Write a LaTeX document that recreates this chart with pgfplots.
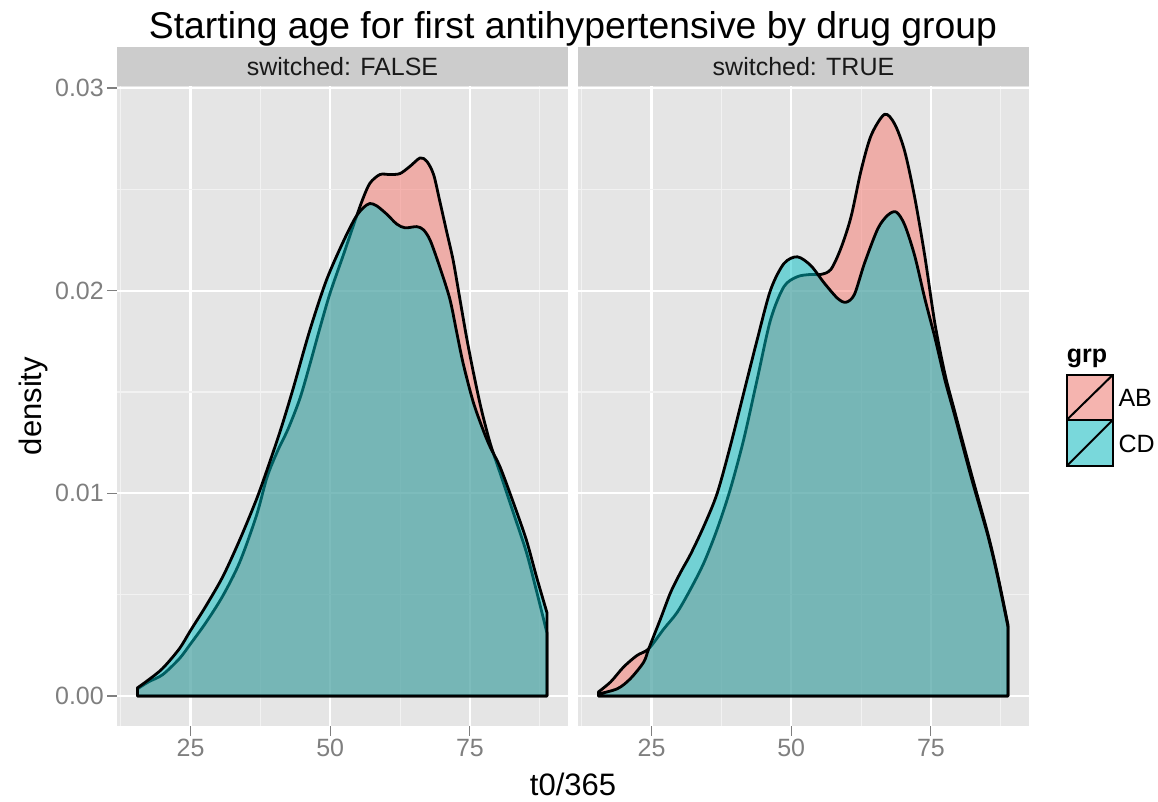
\documentclass[border=0pt]{standalone}
\usepackage{fontspec}
\setmainfont{Liberation Sans}
\usepackage{pgfplots}
\pgfplotsset{compat=1.18}

\definecolor{panelbg}{HTML}{E5E5E5}
\definecolor{gridminor}{HTML}{F2F2F2}
\definecolor{stripbg}{HTML}{CCCCCC}
\definecolor{tickgrey}{HTML}{7F7F7F}
\definecolor{grpAB}{HTML}{F8766D}
\definecolor{grpCD}{HTML}{00BFC4}
\definecolor{keyAB}{HTML}{F5B4AF}
\definecolor{keyCD}{HTML}{79D8DB}

\newcommand\ticksz{\fontsize{25bp}{30bp}\selectfont}
\newcommand\titlesz{\fontsize{37.3bp}{44bp}\selectfont}
\newcommand\labsz{\fontsize{31bp}{37bp}\selectfont}

\pgfplotsset{
  facet/.style={
    scale only axis, width=450.4bp, height=640bp, anchor=south west,
    xmin=11.9, xmax=92.5, ymin=-0.00148, ymax=0.0301,
    axis background/.style={fill=panelbg},
    axis line style={draw=none},
    scaled x ticks=false, scaled y ticks=false,
    xtick={25,50,75}, xticklabels={25,50,75},
    ytick={0,0.01,0.02,0.03},
    minor xtick={12.5,37.5,62.5,87.5},
    minor ytick={0.005,0.015,0.025},
    grid=both,
    major grid style={white, line width=2.2bp},
    minor grid style={gridminor, line width=1.1bp},
    tick align=outside, xtick pos=left, ytick pos=left,
    major tick length=10bp, minor tick length=0bp,
    tick style={tickgrey, line width=1.1bp},
    tick label style={font=\ticksz, text=tickgrey},
  },
  dens/.style={smooth, mark=none, draw=black, line width=2.8bp,
    line join=round, fill opacity=0.5, draw opacity=1},
}

\begin{document}
\begin{tikzpicture}[x=1bp, y=1bp]
\useasboundingbox (0,0) rectangle (1158,802);

% ---- switched: FALSE ----
\begin{axis}[facet, at={(117.3bp,76bp)},
  yticklabels={0.00,0.01,0.02,0.03}]
\addplot[dens, fill=grpAB] coordinates {
 (15.5,0.00035) (17.5,0.0007) (20.0,0.00105) (23.0,0.00184) (25.0,0.00257)
 (27.8,0.00364) (30.8,0.00495) (33.8,0.0066) (36.8,0.0089) (38.7,0.0108)
 (40.6,0.0121) (42.5,0.0132) (44.6,0.0147) (46.4,0.0164) (48.2,0.0182)
 (50.0,0.0199) (52.4,0.0218) (54.5,0.0235) (55.8,0.0245) (57.1,0.0253)
 (58.9,0.02573) (60.7,0.02573) (62.5,0.02578) (64.3,0.02614) (66.1,0.02655)
 (67.3,0.02638) (68.5,0.02573) (69.6,0.02443) (70.8,0.02296) (72.0,0.0215)
 (73.2,0.0196) (74.4,0.0177) (75.6,0.0160) (77.0,0.0142) (78.6,0.0125)
 (80.4,0.0110) (82.7,0.0091) (85.1,0.0071) (86.9,0.0052) (88.8,0.0031)
} \closedcycle;
\addplot[dens, fill=grpCD] coordinates {
 (15.5,0.0004) (17.5,0.0008) (20.0,0.00136) (23.0,0.00233) (25.0,0.00323)
 (27.8,0.00446) (30.8,0.0059) (33.8,0.0077) (36.8,0.0097) (39.0,0.0114)
 (41.2,0.0132) (43.4,0.0152) (46.3,0.0180) (49.3,0.0205) (52.3,0.0224)
 (54.5,0.0236) (55.95,0.0241) (57.1,0.0243) (58.3,0.02419) (60.1,0.02378)
 (61.9,0.02329) (63.4,0.0231) (65.5,0.02316) (66.7,0.0230) (67.9,0.02248)
 (69.6,0.02117) (71.4,0.0196) (72.6,0.0180) (73.8,0.0164) (75.6,0.0145)
 (77.4,0.0131) (78.6,0.0123) (80.4,0.0113) (82.7,0.0096) (85.1,0.0077)
 (86.9,0.0059) (88.8,0.0041)
} \closedcycle;
\end{axis}

% ---- switched: TRUE ----
\begin{axis}[facet, at={(578.3bp,76bp)},
  yticklabels={}, ytick style={draw=none}]
\addplot[dens, fill=grpAB] coordinates {
 (15.5,0.0002) (17.7,0.0007) (20.0,0.00143) (22.4,0.0020) (24.5,0.00233)
 (27.2,0.00331) (29.6,0.00413) (32.0,0.00528) (34.4,0.00659) (36.75,0.00823)
 (39.1,0.0102) (41.5,0.01266) (43.9,0.01561) (46.3,0.01856) (48.7,0.0202)
 (51.1,0.02069) (53.5,0.0208) (55.3,0.0208) (57.1,0.02105) (58.9,0.0221)
 (60.7,0.02364) (62.5,0.02593) (64.3,0.02766) (66.7,0.0287) (68.5,0.02823)
 (70.3,0.02689) (72.1,0.0246) (73.9,0.02172) (75.7,0.0184) (77.5,0.0159)
 (79.2,0.0141) (82.2,0.0110) (85.2,0.0080) (87.0,0.0059) (88.8,0.0035)
} \closedcycle;
\addplot[dens, fill=grpCD] coordinates {
 (15.5,0.0001) (18.9,0.00036) (21.2,0.00085) (23.6,0.00167) (24.5,0.00233)
 (26.6,0.0038) (28.4,0.0051) (30.2,0.0061) (32.0,0.0070) (34.4,0.0084)
 (36.75,0.0100) (39.1,0.01233) (41.5,0.01495) (43.9,0.01757) (46.3,0.02003)
 (48.7,0.02134) (51.1,0.02167) (53.5,0.02124) (55.9,0.02038) (58.3,0.01962)
 (59.8,0.01943) (61.3,0.01981) (63.1,0.02134) (65.5,0.02306) (67.3,0.02373)
 (68.8,0.02388) (70.3,0.02325) (72.1,0.02172) (73.9,0.01962) (75.7,0.0177)
 (77.5,0.0156) (79.2,0.0139) (82.2,0.0108) (85.2,0.0079) (87.0,0.0058)
 (88.8,0.0034)
} \closedcycle;
\end{axis}

% facet strips
\fill[stripbg] (117.3,716) rectangle (567.7,754.7);
\fill[stripbg] (578.3,716) rectangle (1028.7,754.7);
\node[font=\ticksz, text=black!90, anchor=base, inner sep=0pt] at (342.5,726.5) {switched: FALSE};
\node[font=\ticksz, text=black!90, anchor=base, inner sep=0pt] at (803.5,726.5) {switched: TRUE};

% titles
\node[font=\titlesz, anchor=base, inner sep=0pt] at (573,763.3) {Starting age for first antihypertensive by drug group};
\node[font=\labsz, anchor=base, inner sep=0pt] at (573,6) {t0/365};
\node[font=\labsz, anchor=base, inner sep=0pt, rotate=90] at (41,396) {density};

% legend
\node[font=\ticksz\bfseries, anchor=base west, inner sep=0pt] at (1066.7,439) {grp};
\draw[line width=1.6bp, fill=keyAB] (1066.7,382) rectangle (1112.7,427);
\draw[line width=2bp] (1066.7,382) -- (1112.7,427);
\draw[line width=1.6bp, fill=keyCD] (1066.7,336) rectangle (1112.7,382);
\draw[line width=2bp] (1066.7,336) -- (1112.7,382);
\node[font=\ticksz, anchor=base west, inner sep=0pt] at (1118.3,395.5) {AB};
\node[font=\ticksz, anchor=base west, inner sep=0pt] at (1118.3,349.7) {CD};
\end{tikzpicture}
\end{document}
